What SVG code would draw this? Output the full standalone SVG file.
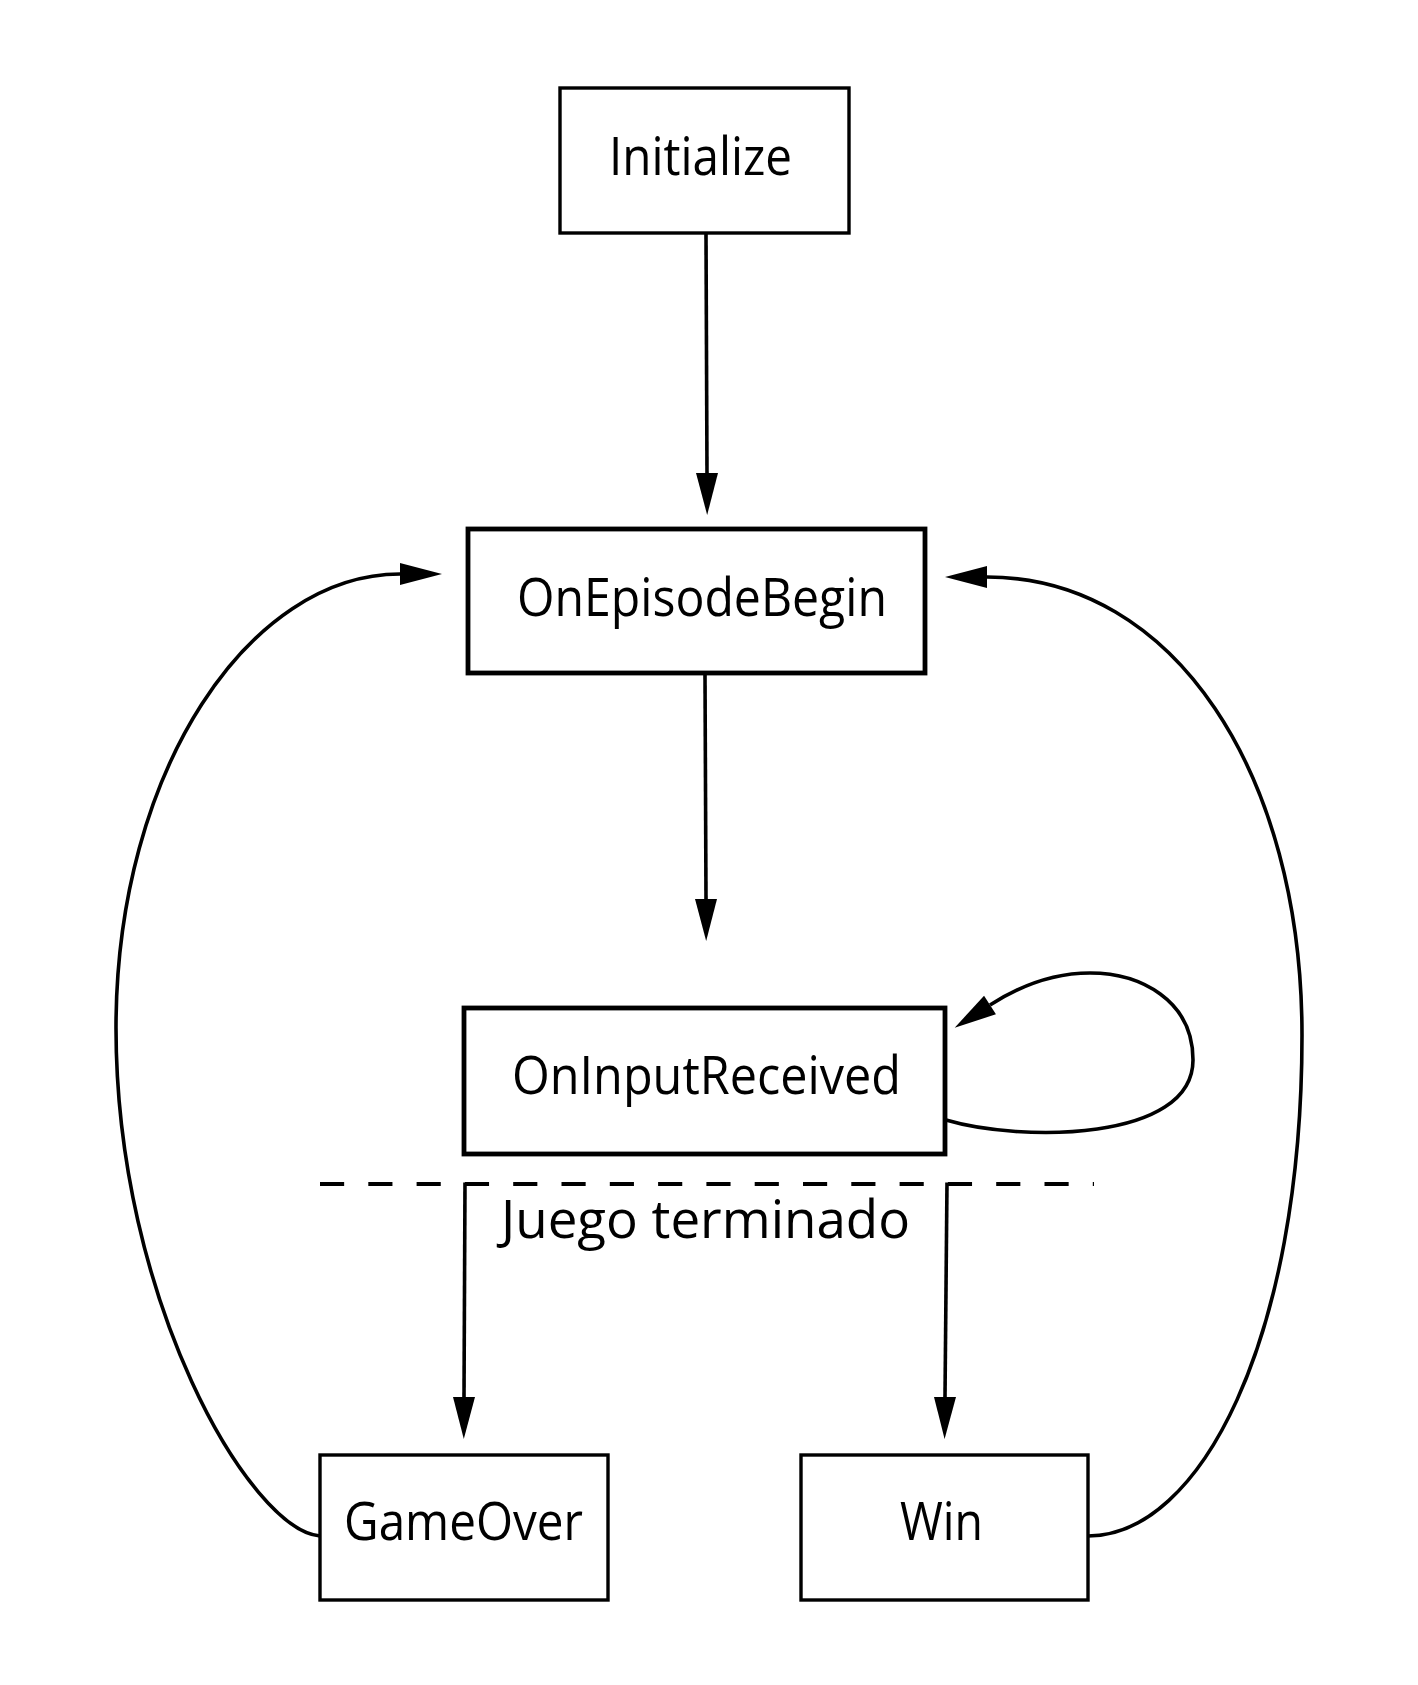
<svg xmlns="http://www.w3.org/2000/svg" width="1418" height="1685" viewBox="0 0 1418 1685">
<style>
.box{fill:#fff;stroke:#000;stroke-width:3.4}
.bold{stroke-width:4.8}
.lbl{font-family:"Open Sans","Noto Sans","DejaVu Sans",sans-serif;font-size:53px;fill:#000}
.con{fill:none;stroke:#000;stroke-width:3.6}
.dash{fill:none;stroke:#000;stroke-width:4;stroke-dasharray:24.15 24.15}
</style>
<defs>
<marker id="ah" markerUnits="userSpaceOnUse" markerWidth="44" markerHeight="24" refX="0" refY="11" orient="auto" overflow="visible">
<path d="M0,0 L42,11 L0,22 Z" fill="#000"/>
</marker>
</defs>
<rect width="1418" height="1685" fill="#fff"/>
<g id="connectors">
<path class="con" d="M706 234 L707 473" marker-end="url(#ah)"/>
<path class="con" d="M705 675 L706 899" marker-end="url(#ah)"/>
<path class="con" d="M946 1120 C1020 1142 1193 1142 1193 1060 C1193 1000 1140 973 1090 973 C1052 973 1018 987 990 1005" marker-end="url(#ah)"/>
<path class="dash" d="M320 1184 H1094"/>
<path class="con" d="M465 1182.5 L464 1397" marker-end="url(#ah)"/>
<path class="con" d="M947 1182.5 L945 1397" marker-end="url(#ah)"/>
<path class="con" d="M320 1536 C250 1530 116 1300 116 1028 C116 770 250 574 400 574" marker-end="url(#ah)"/>
<path class="con" d="M1088 1536 C1200 1536 1302 1340 1302 1035 C1302 775 1175 577 987 577" marker-end="url(#ah)"/>
</g>
<g id="initialize">
<rect class="box" x="560" y="88" width="289" height="145"/>
<text class="lbl" x="609" y="175" textLength="183" lengthAdjust="spacingAndGlyphs">Initialize</text>
</g>
<g id="onepisodebegin">
<rect class="box bold" x="468" y="529" width="457" height="144"/>
<text class="lbl" x="517" y="616" textLength="370" lengthAdjust="spacingAndGlyphs">OnEpisodeBegin</text>
</g>
<g id="oninputreceived">
<rect class="box bold" x="464" y="1008" width="481" height="146"/>
<text class="lbl" x="512" y="1094" textLength="389" lengthAdjust="spacingAndGlyphs">OnInputReceived</text>
</g>
<g id="label-juego">
<text class="lbl" x="501" y="1238" textLength="409" lengthAdjust="spacingAndGlyphs">Juego terminado</text>
</g>
<g id="gameover">
<rect class="box" x="320" y="1455" width="288" height="145"/>
<text class="lbl" x="344" y="1540" textLength="239" lengthAdjust="spacingAndGlyphs">GameOver</text>
</g>
<g id="win">
<rect class="box" x="801" y="1455" width="287" height="145"/>
<text class="lbl" x="900" y="1540" textLength="83" lengthAdjust="spacingAndGlyphs">Win</text>
</g>
</svg>
